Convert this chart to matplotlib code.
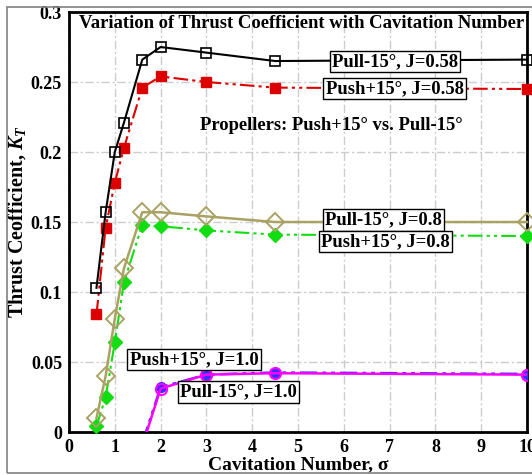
import matplotlib
matplotlib.use("Agg")
import matplotlib.pyplot as plt
from matplotlib.patches import Rectangle

# cavitation numbers
sigma = [0.6, 0.8, 1.0, 1.2, 1.6, 2.0, 3.0, 4.5, 10.0]
sigma_j10 = [1.6, 2.0, 3.0, 4.5, 10.0]

# thrust coefficients K_T
pull_058 = [0.103, 0.157, 0.200, 0.221, 0.266, 0.275, 0.271, 0.265, 0.266]
push_058 = [0.084, 0.146, 0.178, 0.203, 0.246, 0.254, 0.250, 0.246, 0.245]
pull_080 = [0.010, 0.040, 0.081, 0.117, 0.157, 0.157, 0.154, 0.150, 0.150]
push_080 = [0.004, 0.025, 0.064, 0.107, 0.148, 0.147, 0.144, 0.141, 0.140]
pull_100 = [-0.010, 0.031, 0.041, 0.042, 0.041]
push_100 = [-0.008, 0.032, 0.041, 0.0425, 0.0415]

plt.rcParams["font.family"] = ["Liberation Serif", "DejaVu Serif"]
plt.rcParams["font.weight"] = "bold"
plt.rcParams["mathtext.fontset"] = "custom"
plt.rcParams["mathtext.rm"] = "Liberation Serif:bold"
plt.rcParams["mathtext.it"] = "Liberation Serif:bold:italic"

DDOT = (0, (7, 2, 1.5, 2, 1.5, 2))
FS = 13.4

fig = plt.figure(figsize=(5.32, 4.75), dpi=100)
fig.patches.append(Rectangle((0.013, 0.004), 1.2, 0.982, transform=fig.transFigure,
                             fill=False, edgecolor="#808080", linewidth=1.2))
ax = fig.add_axes([0.1297, 0.0905, 0.8609, 0.8842])

ax.plot(sigma, pull_058, color="black", linewidth=1.5, marker="s", markersize=7,
        markerfacecolor="none", markeredgecolor="black", markeredgewidth=1.2,
        clip_on=False, zorder=5)
ax.plot(sigma, push_058, color="#dd0000", linestyle=DDOT, linewidth=1.5, marker="s",
        markersize=7, markerfacecolor="#dd0000", markeredgecolor="#dd0000",
        clip_on=False, zorder=4)
ax.plot(sigma, pull_080, color="#a9a263", linewidth=1.8, marker="D", markersize=9,
        markerfacecolor="none", markeredgecolor="#a9a263", markeredgewidth=1.4,
        clip_on=False, zorder=5)
ax.plot(sigma, push_080, color="#11dd11", linestyle=DDOT, linewidth=1.5, marker="D",
        markersize=7.5, markerfacecolor="#11dd11", markeredgecolor="#11dd11",
        clip_on=False, zorder=4)
ax.plot(sigma_j10, push_100, color="#3030ff", linestyle=DDOT, linewidth=1.8, marker="o",
        markersize=7, markerfacecolor="#3030ff", markeredgecolor="#3030ff", zorder=4)
ax.plot(sigma_j10, pull_100, color="#ff00ff", linewidth=1.8, marker="o",
        markersize=8, markerfacecolor="none", markeredgecolor="#ff00ff",
        markeredgewidth=1.5, zorder=5)

ax.set_xlim(0, 10)
ax.set_ylim(0, 0.3)
ax.set_xticks(range(0, 11))
ax.set_yticks([0, 0.05, 0.1, 0.15, 0.2, 0.25, 0.3])
ax.set_yticklabels(["0", "0.05", "0.1", "0.15", "0.2", "0.25", "0.3"])
ax.tick_params(length=0, labelsize=13, pad=5)
for lab in ax.get_xticklabels() + ax.get_yticklabels():
    lab.set_fontweight("bold")
ax.grid(True, color="#cccccc", linestyle=(0, (6, 2, 1.5, 2)), linewidth=1)
ax.set_axisbelow(True)
for sp in ax.spines.values():
    sp.set_linewidth(2)
    sp.set_color("black")

ax.set_xlabel("Cavitation Number, σ", fontsize=14, fontweight="bold", labelpad=0)
ax.set_ylabel("Thrust Ceofficient, $K_T$", fontsize=14.5, fontweight="bold", labelpad=2)

ax.text(5.07, 0.2921, "Variation of Thrust Coefficient with Cavitation Number",
        ha="center", va="center", fontsize=FS, fontweight="bold", zorder=10)
ax.text(5.72, 0.2186, "Propellers: Push+15° vs. Pull-15°",
        ha="center", va="center", fontsize=FS, fontweight="bold", zorder=10)

box = dict(boxstyle="square,pad=0.12", facecolor="white", edgecolor="black", linewidth=1)
labels = [
    (7.12, 0.2646, "Pull-15°, J=0.58"),
    (7.11, 0.2454, "Push+15°, J=0.58"),
    (6.86, 0.1514, "Pull-15°, J=0.8"),
    (6.91, 0.1360, "Push+15°, J=0.8"),
    (2.73, 0.0518, "Push+15°, J=1.0"),
    (3.70, 0.0286, "Pull-15°, J=1.0"),
]
for x, y, s in labels:
    ax.text(x, y, s, ha="center", va="center", fontsize=FS, fontweight="bold",
            bbox=box, zorder=10)

plt.savefig("out.png", dpi=100)
plt.close()
